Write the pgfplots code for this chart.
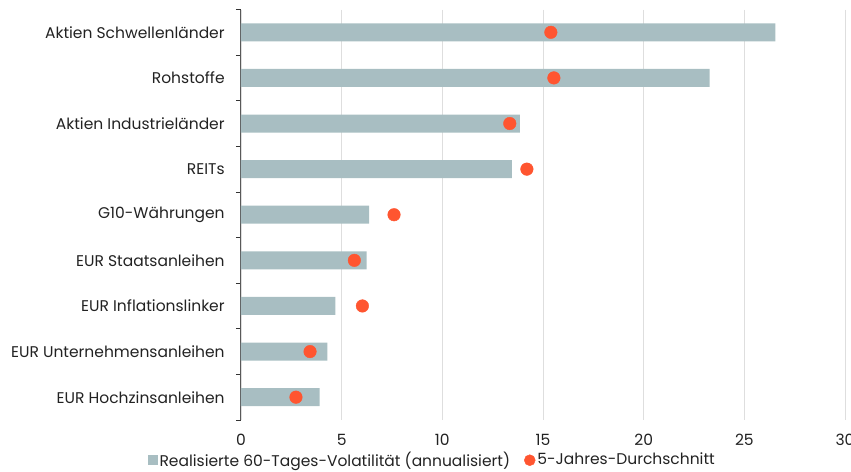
\documentclass[border=0pt]{standalone}
\usepackage{fontspec}
\setmainfont{Poppins}
\usepackage{pgfplots}
\pgfplotsset{compat=1.18}
\usetikzlibrary{calc}
\definecolor{barcol}{HTML}{A8BEC2}
\definecolor{dotcol}{HTML}{FF5530}
\definecolor{txt}{HTML}{222222}
\begin{document}
\fontsize{15.5bp}{18bp}\selectfont
\begin{tikzpicture}
\begin{axis}[
  scale only axis,
  width=604bp, height=410.5bp,
  xmin=0, xmax=30,
  ymin=-0.5, ymax=8.5,
  y dir=reverse,
  axis x line*=bottom,
  axis y line*=left,
  x axis line style={draw=none},
  y axis line style={draw=black!65, line width=1pt},
  xtick={0,5,...,30},
  ytick={0,...,8},
  yticklabels={Aktien Schwellenländer,Rohstoffe,Aktien Industrieländer,REITs,G10-Währungen,EUR Staatsanleihen,EUR Inflationslinker,EUR Unternehmensanleihen,EUR Hochzinsanleihen},
  minor ytick={-0.5,0.5,...,8.5},
  major tick length=0pt,
  minor tick length=5bp,
  tick align=outside,
  minor tick style={draw=black!80, line width=0.8pt},
  xmajorgrids,
  major grid style={draw=black!13, line width=0.8pt},
  yticklabel style={text=txt, xshift=-11bp},
  xticklabel style={text=txt, yshift=-9bp},
  /pgf/number format/assume math mode=true,
  tick label style={font=\fontsize{15.5bp}{18bp}\selectfont},
  legend style={draw=none, fill=none, legend columns=2,
    at={(axis description cs:-0.16,-0.098)}, anchor=west,
    font=\fontsize{15.5bp}{18bp}\selectfont, text=txt,
    /tikz/every even column/.append style={column sep=12bp}},
  legend cell align=left,
]
\addplot[xbar, bar width=18bp, fill=barcol, draw=none,
  legend image code/.code={\fill[barcol] (0bp,-5bp) rectangle (10bp,5bp);}]
  coordinates {(26.54,0) (23.27,1) (13.85,2) (13.45,3) (6.37,4) (6.24,5) (4.69,6) (4.29,7) (3.91,8)};
\addlegendentry{Realisierte 60-Tages-Volatilität (annualisiert)}
\addplot[only marks, mark=*, mark size=6.3bp, color=dotcol,
  legend image code/.code={\fill[dotcol] (5bp,0bp) circle (5.5bp);}]
  coordinates {(15.39,0) (15.54,1) (13.35,2) (14.2,3) (7.6,4) (5.63,5) (6.03,6) (3.43,7) (2.73,8)};
\addlegendentry{5-Jahres-Durchschnitt}
\end{axis}
\pgfresetboundingbox
\path ($(current axis.south west)+(-241bp,-52bp)$) rectangle ($(current axis.north east)+(6bp,9.5bp)$);
\end{tikzpicture}
\end{document}
